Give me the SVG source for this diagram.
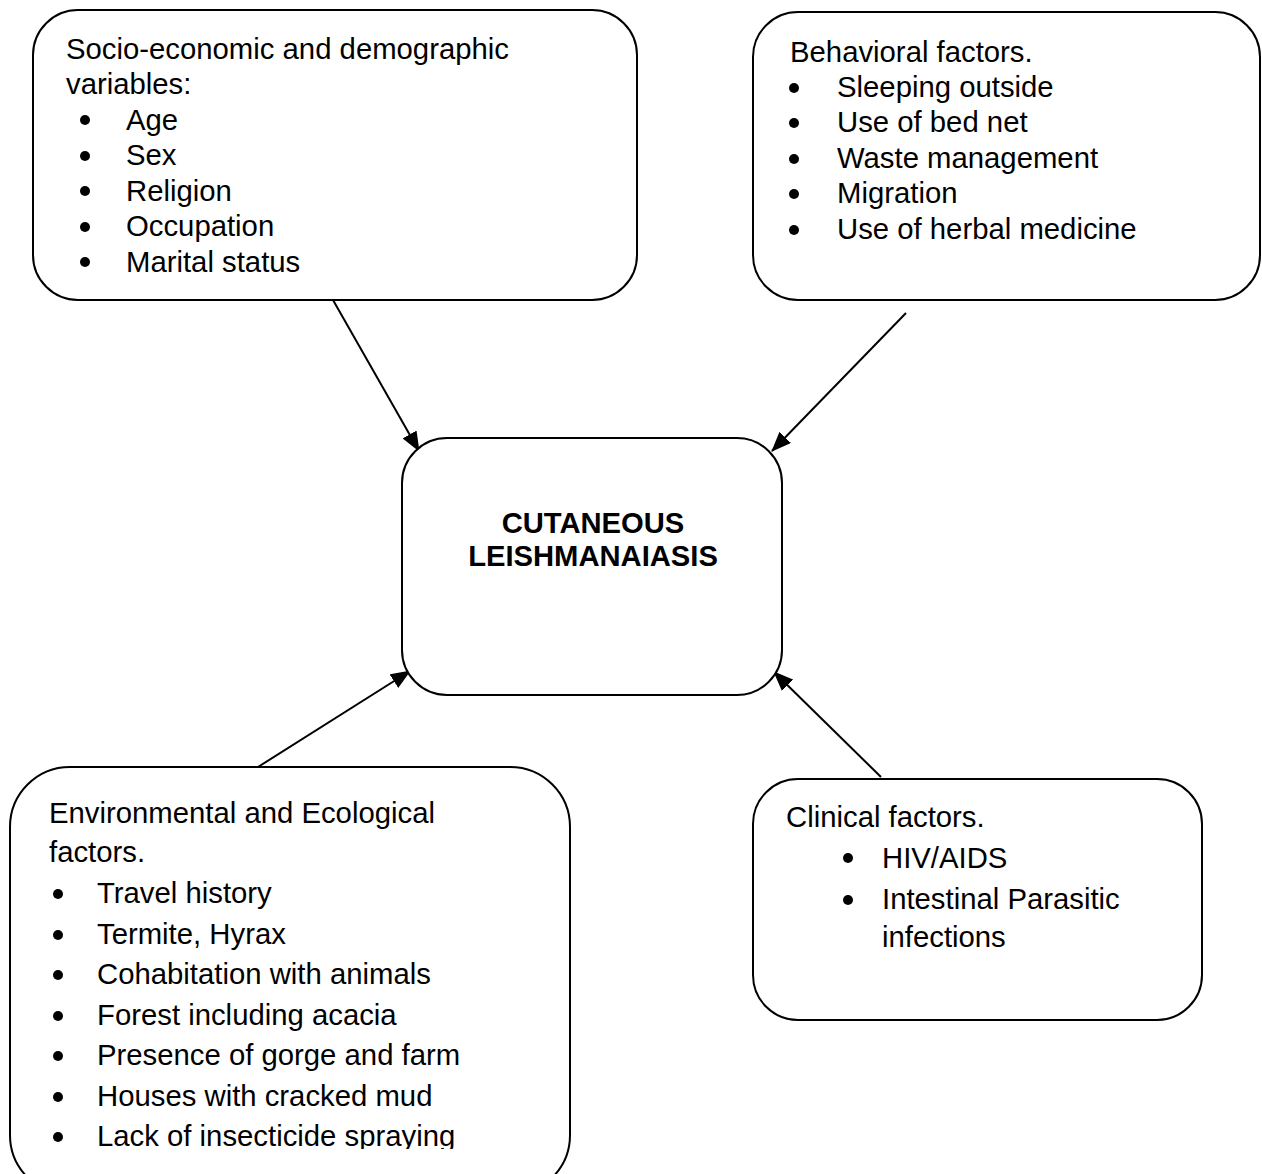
<svg xmlns="http://www.w3.org/2000/svg" width="1262" height="1174" viewBox="0 0 1262 1174">
<defs>
<style>
.box{fill:#fff;stroke:#000;stroke-width:2}
.t{font-family:"Liberation Sans",Arial,sans-serif;font-size:29.3px;fill:#000}
.b{font-family:"Liberation Sans",Arial,sans-serif;font-size:29.2px;font-weight:bold;fill:#000}
.c{stroke:#000;stroke-width:2;fill:none;marker-end:url(#ah)}
</style>
<marker id="ah" viewBox="0 0 20 16" refX="19" refY="8" markerWidth="20" markerHeight="16" markerUnits="userSpaceOnUse" orient="auto">
<path d="M0,0 L20,8 L0,16 Z" fill="#000"/>
</marker>
<clipPath id="clipBL"><rect x="0" y="760" width="600" height="389"/></clipPath>
</defs>
<rect width="1262" height="1174" fill="#fff"/>

<g id="connectors">
<line class="c" x1="333" y1="300" x2="419" y2="451"/>
<line class="c" x1="906" y1="313" x2="772" y2="451"/>
<line class="c" x1="258" y1="767" x2="410" y2="671"/>
<line class="c" x1="881" y1="777" x2="774" y2="672"/>
</g>

<g id="socio">
<rect class="box" x="33" y="10" width="604" height="290" rx="45" ry="45"/>
<text class="t" x="66" y="59">Socio-economic and demographic</text>
<text class="t" x="66" y="94">variables:</text>
<g fill="#000">
<circle cx="85" cy="120" r="5"/>
<circle cx="85" cy="156" r="5"/>
<circle cx="85" cy="191" r="5"/>
<circle cx="85" cy="227" r="5"/>
<circle cx="85" cy="262" r="5"/>
</g>
<text class="t" x="126" y="130">Age</text>
<text class="t" x="126" y="165">Sex</text>
<text class="t" x="126" y="201">Religion</text>
<text class="t" x="126" y="236">Occupation</text>
<text class="t" x="126" y="272">Marital status</text>
</g>

<g id="behavioral">
<rect class="box" x="753" y="12" width="507" height="288" rx="45" ry="45"/>
<text class="t" x="790" y="62">Behavioral factors.</text>
<g fill="#000">
<circle cx="794" cy="88" r="5"/>
<circle cx="794" cy="123" r="5"/>
<circle cx="794" cy="159" r="5"/>
<circle cx="794" cy="194" r="5"/>
<circle cx="794" cy="230" r="5"/>
</g>
<text class="t" x="837" y="97">Sleeping outside</text>
<text class="t" x="837" y="132">Use of bed net</text>
<text class="t" x="837" y="168">Waste management</text>
<text class="t" x="837" y="203">Migration</text>
<text class="t" x="837" y="239">Use of herbal medicine</text>
</g>

<g id="center">
<rect class="box" x="402" y="438" width="380" height="257" rx="45" ry="45"/>
<text class="b" x="593" y="533" text-anchor="middle">CUTANEOUS</text>
<text class="b" x="593" y="566" text-anchor="middle">LEISHMANAIASIS</text>
</g>

<g id="environmental">
<rect class="box" x="10" y="767" width="560" height="428" rx="60" ry="60"/>
<text class="t" x="49" y="823">Environmental and Ecological</text>
<text class="t" x="49" y="862">factors.</text>
<g fill="#000">
<circle cx="58" cy="894" r="5"/>
<circle cx="58" cy="935" r="5"/>
<circle cx="58" cy="975" r="5"/>
<circle cx="58" cy="1016" r="5"/>
<circle cx="58" cy="1056" r="5"/>
<circle cx="58" cy="1097" r="5"/>
<circle cx="58" cy="1137" r="5"/>
</g>
<g clip-path="url(#clipBL)">
<text class="t" x="97" y="903">Travel history</text>
<text class="t" x="97" y="944">Termite, Hyrax</text>
<text class="t" x="97" y="984">Cohabitation with animals</text>
<text class="t" x="97" y="1025">Forest including acacia</text>
<text class="t" x="97" y="1065">Presence of gorge and farm</text>
<text class="t" x="97" y="1106">Houses with cracked mud</text>
<text class="t" x="97" y="1146">Lack of insecticide spraying</text>
</g>
</g>

<g id="clinical">
<rect class="box" x="753" y="779" width="449" height="241" rx="45" ry="45"/>
<text class="t" x="786" y="827">Clinical factors.</text>
<g fill="#000">
<circle cx="848" cy="858" r="5"/>
<circle cx="848" cy="900" r="5"/>
</g>
<text class="t" x="882" y="868">HIV/AIDS</text>
<text class="t" x="882" y="909">Intestinal Parasitic</text>
<text class="t" x="882" y="947">infections</text>
</g>
</svg>
